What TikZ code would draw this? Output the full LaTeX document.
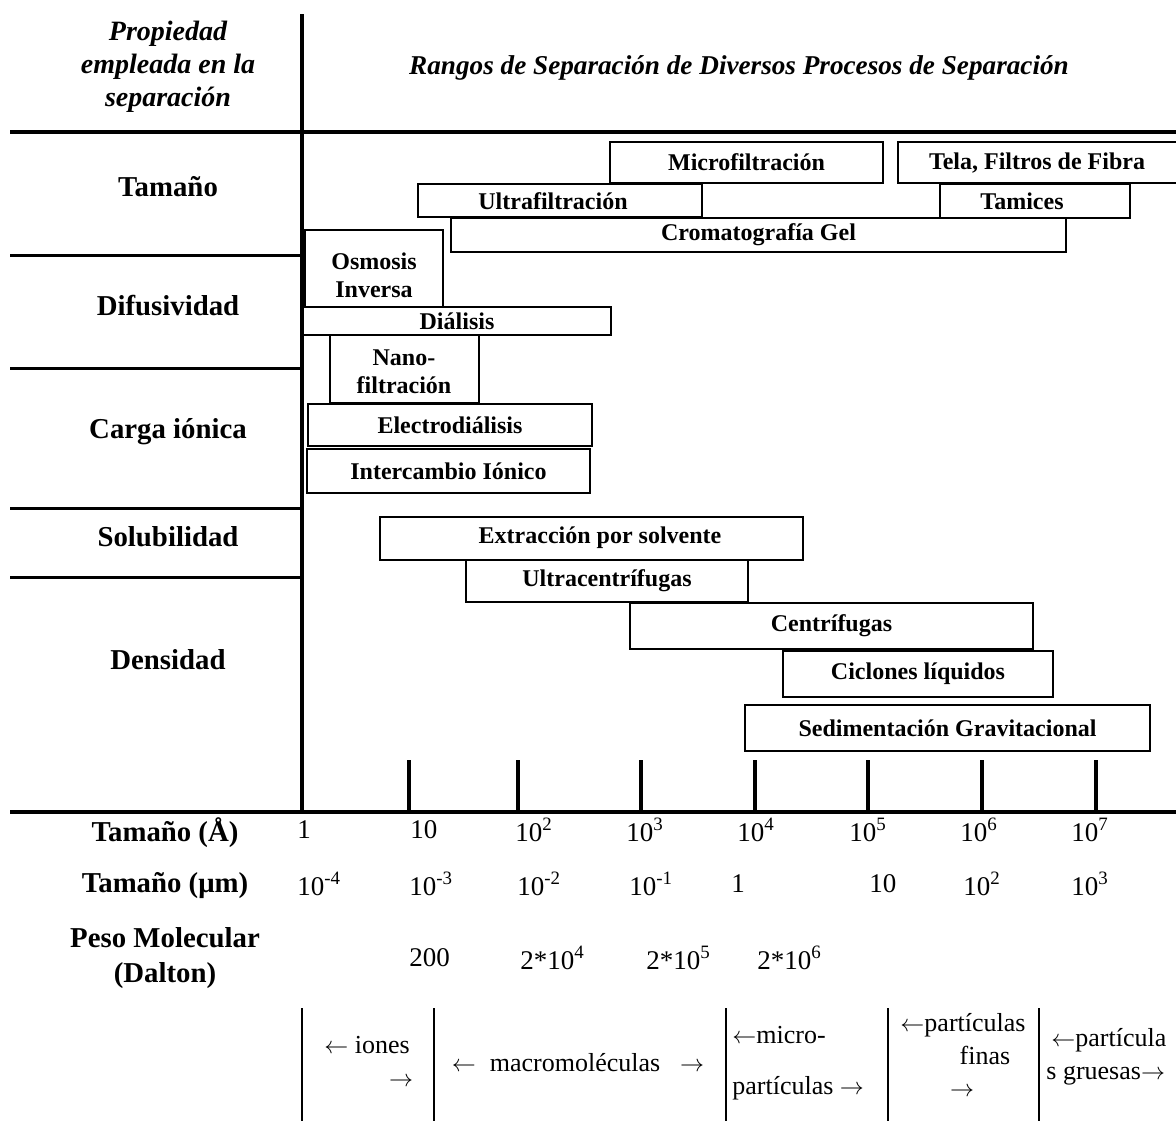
\documentclass[tikz,border=0pt]{standalone}
\usepackage{fontspec}
\setmainfont{Liberation Serif}
\usetikzlibrary{fit,positioning}

\begin{document}
\begin{tikzpicture}[x=0.5pt,y=-0.5pt,
    procbox/.style={draw,line width=0.85pt,inner sep=0pt},
    boxtxt/.style={align=center,inner sep=0pt,font=\fontsize{12}{14}\selectfont\bfseries},
    rowlab/.style={align=center,font=\fontsize{14.4}{17.5}\selectfont\bfseries},
    headlab/.style={align=center,font=\fontsize{14}{16.5}\selectfont\bfseries\itshape},
    ticklab/.style={anchor=west,inner sep=0pt,font=\fontsize{13.5}{16}\selectfont},
    bandlab/.style={inner sep=0pt,font=\fontsize{13}{15}\selectfont},
    mainline/.style={line width=2pt},
    sepline/.style={line width=1.5pt},
    bandline/.style={line width=1.3pt}]
\useasboundingbox (0,0) rectangle (1176,1120);
%
% frame of the table
\draw[mainline] (10,132) -- (1190,132);
\draw[mainline] (302,14) -- (302,812);
\draw[mainline] (10,812) -- (1190,812);
\foreach \yy in {255,368,508,577}
  \draw[sepline] (10,\yy) -- (302,\yy);
\foreach \tx in {409,518,641,755,868,982,1096}
  \draw[mainline] (\tx,760) -- (\tx,812);
%
% headings
\node[headlab] (prop) at (168,67) {Propiedad\\empleada en la\\separación};
\node[headlab,font=\fontsize{13.6}{16}\selectfont\bfseries\itshape] (rangos) at (739,68)
     {Rangos de Separación de Diversos Procesos de Separación};
%
% properties
\node[rowlab] (tam)   at (168,187) {Tamaño};
\node[rowlab] (dif)   at (168,306) {Difusividad};
\node[rowlab] (carga) at (168,432) {Carga iónica};
\node[rowlab] (sol)   at (168,537) {Solubilidad};
\node[rowlab] (dens)  at (168,660) {Densidad};
%
% processes
\node[procbox,fit={(610,142) (883,183)}] (micro) {};
\node[boxtxt] (microlab) at (micro) {Microfiltración};
\node[procbox,fit={(898,142) (1190,183)}] (tela) {};
\node[boxtxt] (telalab) at (1037,163) {Tela, Filtros de Fibra};
\node[procbox,fit={(418,184) (702,217)}] (ultra) {};
\node[boxtxt] (ultralab) at (553,201) {Ultrafiltración};
\node[procbox,fit={(940,184) (1130,218)}] (tamices) {};
\node[boxtxt] (tamlab) at (1022,201) {Tamices};
\node[procbox,fit={(451,218) (1066,252)}] (croma) {};
\node[boxtxt] (cromalab) at (croma) {Cromatografía Gel};
\node[procbox,fit={(305,230) (443,307)}] (osmo) {};
\node[boxtxt] (osmolab) at (374,275) {Osmosis\\Inversa};
\node[procbox,fit={(303,307) (611,335)}] (dial) {};
\node[boxtxt] (diallab) at (dial) {Diálisis};
\node[procbox,fit={(330,335) (479,403)}] (nano) {};
\node[boxtxt] (nanolab) at (404,372) {Nano-\\filtración};
\node[procbox,fit={(308,404) (592,446)}] (electro) {};
\node[boxtxt] (electrolab) at (electro) {Electrodiálisis};
\node[procbox,fit={(307,449) (590,493)}] (inter) {};
\node[boxtxt] (interlab) at (inter) {Intercambio Iónico};
\node[procbox,fit={(380,517) (803,560)}] (extr) {};
\node[boxtxt] (extrlab) at (600,538) {Extracción por solvente};
\node[procbox,fit={(466,560) (748,602)}] (ucent) {};
\node[boxtxt] (ucentlab) at (ucent) {Ultracentrífugas};
\node[procbox,fit={(630,603) (1033,649)}] (cent) {};
\node[boxtxt] (centlab) at (cent) {Centrífugas};
\node[procbox,fit={(783,651) (1053,697)}] (cicl) {};
\node[boxtxt] (cicllab) at (cicl) {Ciclones líquidos};
\node[procbox,fit={(745,705) (1150,751)}] (sedi) {};
\node[boxtxt] (sedilab) at (sedi) {Sedimentación Gravitacional};
%
% scales
\node[rowlab] (tamA)  at (165,833) {Tamaño (Å)};
\node[rowlab] (tamum) at (165,886) {Tamaño (μm)};
\node[rowlab] (peso)  at (165,958) {Peso Molecular\\(Dalton)};
\foreach \xx/\lab [count=\i] in {297/1,410/10,515/10\textsuperscript{2},626/10\textsuperscript{3},
    737/10\textsuperscript{4},849/10\textsuperscript{5},960/10\textsuperscript{6},1071/10\textsuperscript{7}}
  \node[ticklab] (ang\i) at (\xx,830) {\lab};
\foreach \xx/\lab [count=\i] in {297/10\textsuperscript{-4},409/10\textsuperscript{-3},517/10\textsuperscript{-2},
    629/10\textsuperscript{-1},731/1,869/10,963/10\textsuperscript{2},1071/10\textsuperscript{3}}
  \node[ticklab] (mic\i) at (\xx,884) {\lab};
\foreach \xx/\lab [count=\i] in {409/200,520/2*10\textsuperscript{4},646/2*10\textsuperscript{5},757/2*10\textsuperscript{6}}
  \node[ticklab] (pm\i) at (\xx,958) {\lab};
%
% particle classes
\foreach \bx in {302,434,726,888,1039}
  \draw[bandline] (\bx,1008) -- (\bx,1130);
\node[bandlab] (ion1) at (367,1045) {$\leftarrow$ iones};
\node[bandlab] (ion2) at (401,1082) {$\rightarrow$};
\node[bandlab] (macro) at (578,1063) {$\leftarrow$\hspace{7pt}macromoléculas\hspace{10pt}$\rightarrow$};
\node[bandlab,anchor=west] (mp1) at (732,1035) {$\leftarrow$micro-};
\node[bandlab,anchor=west] (mp2) at (732,1088) {partículas $\rightarrow$};
\node[bandlab] (pf1) at (963,1025) {$\leftarrow$partículas};
\node[bandlab] (pf2) at (985,1055) {finas};
\node[bandlab] (pf3) at (962,1092) {$\rightarrow$};
\node[bandlab,anchor=west] (pg1) at (1051,1040) {$\leftarrow$partícula};
\node[bandlab,anchor=west] (pg2) at (1046,1076) {s gruesas$\rightarrow$};
\end{tikzpicture}
\end{document}
